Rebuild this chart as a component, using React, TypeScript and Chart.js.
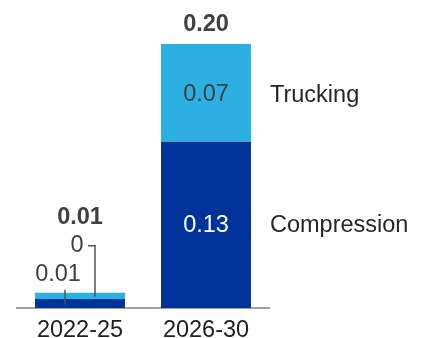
import React, { useEffect, useRef } from 'react';
import { Chart, registerables } from 'chart.js';

Chart.register(...registerables);

const categories = ['2022-25', '2026-30'];
const seriesNames = ['Compression', 'Trucking'];
const compression = [0.0068, 0.126];
const trucking = [0.0048, 0.074];
const compressionLabels = ['0.01', '0.13'];
const truckingLabels = ['0', '0.07'];
const totalLabels = ['0.01', '0.20'];

const DARK = '#003399';
const LIGHT = '#2BB0E1';
const TEXT = '#404040';
const FONT = '"Liberation Sans", Arial, sans-serif';
const FS = 23.5;

const labelPlugin = {
  id: 'labels',
  afterDatasetsDraw(chart: any) {
    const ctx = chart.ctx;
    const m0 = chart.getDatasetMeta(0);
    const m1 = chart.getDatasetMeta(1);
    ctx.save();
    ctx.textBaseline = 'middle';
    const last = categories.length - 1;
    for (let i = 0; i < categories.length; i++) {
      const b0 = m0.data[i];
      const b1 = m1.data[i];
      const mid0 = (b0.y + b0.base) / 2;
      const mid1 = (b1.y + b1.base) / 2;
      if (i === 0) {
        ctx.font = `${FS}px ${FONT}`;
        ctx.textAlign = 'center';
        ctx.fillStyle = TEXT;
        const zeroY = b1.y - 47;
        ctx.fillText(truckingLabels[i], b1.x - 3, zeroY);
        const compY = b1.y - 18;
        ctx.fillText(compressionLabels[i], b0.x - 22, compY);
        ctx.strokeStyle = '#555555';
        ctx.lineWidth = 1.5;
        ctx.beginPath();
        ctx.moveTo(b1.x + 8, zeroY);
        ctx.lineTo(b1.x + 15, zeroY);
        ctx.lineTo(b1.x + 15, mid1 + 1);
        ctx.stroke();
        ctx.beginPath();
        ctx.moveTo(b0.x - 15, compY + 15);
        ctx.lineTo(b0.x - 15, mid0 + 1);
        ctx.stroke();
        ctx.font = `bold ${FS}px ${FONT}`;
        ctx.fillStyle = TEXT;
        ctx.fillText(totalLabels[i], b1.x, zeroY - 28);
      } else {
        ctx.font = `${FS}px ${FONT}`;
        ctx.textAlign = 'center';
        ctx.fillStyle = '#ffffff';
        ctx.fillText(compressionLabels[i], b0.x, mid0 + 1);
        ctx.fillStyle = TEXT;
        ctx.fillText(truckingLabels[i], b1.x, mid1 + 2);
        ctx.font = `bold ${FS}px ${FONT}`;
        ctx.fillText(totalLabels[i], b1.x, b1.y - 19);
      }
      if (i === last) {
        ctx.font = `${FS}px ${FONT}`;
        ctx.textAlign = 'left';
        ctx.fillStyle = '#262626';
        const right = b0.x + b0.width / 2;
        ctx.fillText(seriesNames[1], right + 19, mid1 + 3);
        ctx.fillText(seriesNames[0], right + 19, mid0 + 1);
      }
    }
    ctx.restore();
  },
};

export default function App() {
  const ref = useRef<HTMLCanvasElement>(null);
  useEffect(() => {
    const chart = new Chart(ref.current as HTMLCanvasElement, {
      type: 'bar',
      data: {
        labels: categories,
        datasets: [
          { label: seriesNames[0], data: compression, backgroundColor: DARK },
          { label: seriesNames[1], data: trucking, backgroundColor: LIGHT },
        ],
      },
      options: {
        animation: false,
        responsive: false,
        devicePixelRatio: 1,
        layout: { padding: { left: 17, right: 153, top: 44, bottom: -15.5 } },
        datasets: { bar: { categoryPercentage: 1, barPercentage: 0.714 } } as any,
        plugins: { legend: { display: false }, tooltip: { enabled: false } },
        scales: {
          x: {
            stacked: true,
            grid: { display: false, drawTicks: false },
            border: { display: true, color: '#A0A0A0', width: 2 },
            ticks: {
              color: '#222222',
              padding: 11,
              font: { family: FONT, size: FS, lineHeight: 1 },
            },
          },
          y: { stacked: true, display: false, min: 0, max: 0.2 },
        },
      },
      plugins: [labelPlugin],
    });
    return () => chart.destroy();
  }, []);
  return (
    <div style={{ position: 'fixed', left: 0, top: 0, width: 422, height: 338, background: '#fff' }}>
      <canvas ref={ref} width={422} height={338} style={{ display: 'block' }} />
    </div>
  );
}
